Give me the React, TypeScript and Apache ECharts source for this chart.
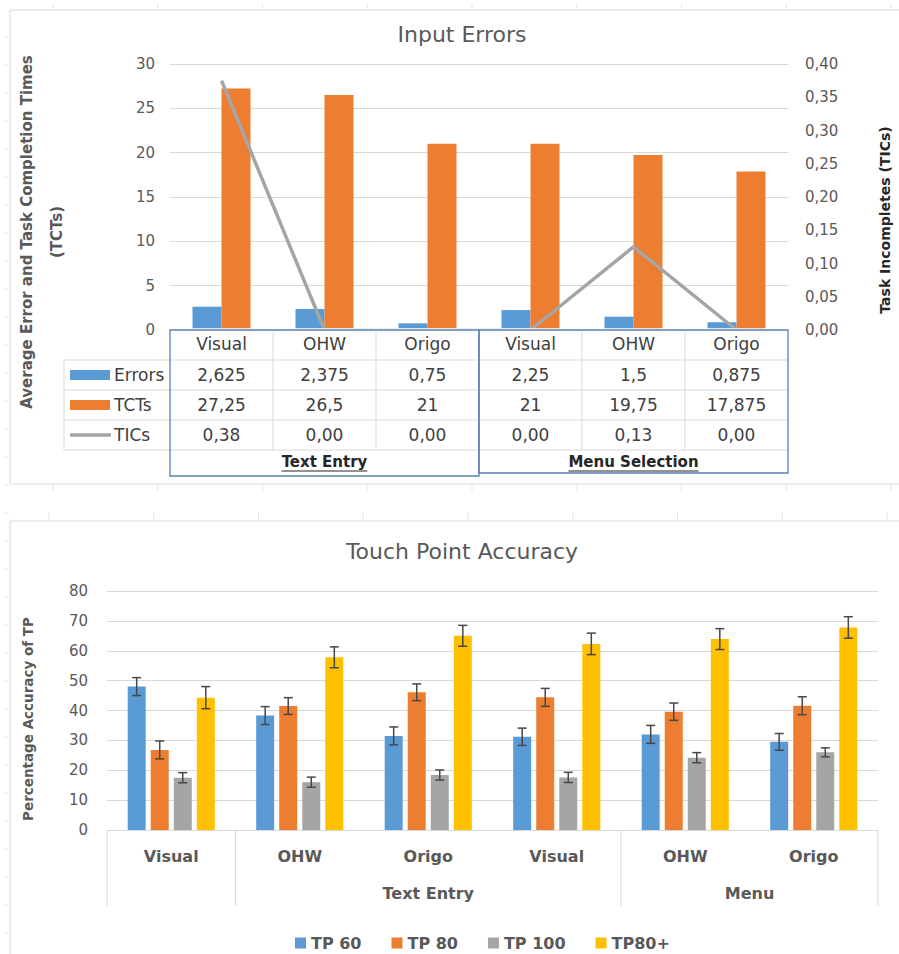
import React, { useEffect, useRef } from "react";
import * as echarts from "echarts";

const FONT = "'DejaVu Sans', 'Noto Sans', sans-serif";

// ---------- Top chart: Input Errors ----------
const topTitle = "Input Errors";
const topCategories = ["Visual", "OHW", "Origo", "Visual", "OHW", "Origo"];
const topGroupLabels = ["Text Entry", "Menu Selection"];
const topGroupSpans = [3, 3];
const errorsValues = [2.625, 2.375, 0.75, 2.25, 1.5, 0.875];
const tctValues = [27.25, 26.5, 21, 21, 19.75, 17.875];
const ticValues = [0.375, 0, 0, 0, 0.125, 0];
const topLeftAxis = { min: 0, max: 30, interval: 5 };
const topRightAxis = { min: 0, max: 0.4, interval: 0.05 };

// ---------- Bottom chart: Touch Point Accuracy ----------
const bottomTitle = "Touch Point Accuracy";
const bottomCategories = ["Visual", "OHW", "Origo", "Visual", "OHW", "Origo"];
const bottomGroupLabels = ["", "Text Entry", "Menu"];
const bottomGroupSpans = [1, 3, 2];
const tpNames = ["TP 60", "TP 80", "TP 100", "TP80+"];
const tp60 = [48, 38.3, 31.5, 31.2, 32, 29.5];
const tp80 = [26.8, 41.5, 46.1, 44.4, 39.6, 41.6];
const tp100 = [17.5, 16, 18.4, 17.6, 24.2, 26];
const tp80plus = [44.3, 57.8, 65, 62.3, 63.9, 67.8];
const tp60Err = [3, 3, 3, 2.9, 3, 2.8];
const tp80Err = [3, 2.8, 2.8, 3, 2.9, 3];
const tp100Err = [1.7, 1.7, 1.7, 1.7, 1.7, 1.5];
const tp80plusErr = [3.7, 3.5, 3.5, 3.6, 3.5, 3.6];
const bottomAxis = { min: 0, max: 80, interval: 10 };

// ---------- styling ----------
const BLUE = "#5B9BD5";
const ORANGE = "#ED7D31";
const GRAY = "#A5A5A5";
const YELLOW = "#FFC000";
const GRID_LINE = "#D9D9D9";
const AXIS_TEXT = "#595959";
const TABLE_TEXT = "#404040";
const BOX_BLUE = "#5A80B5";

const TOP = { left: 170, top: 64, width: 618, height: 266 };
const BOT = { left: 107, top: 591, width: 771, height: 239 };
const TOP_BAR_W = 29;
const BOT_BAR_W = 18;
const BOT_GAP = 0.28;

function measure(t: string, font: string) {
  const c = document.createElement("canvas").getContext("2d");
  if (!c) return t.length * 9;
  c.font = font;
  return c.measureText(t).width;
}

function buildOption() {
  const g: any[] = [];
  const line = (x1: number, y1: number, x2: number, y2: number, stroke: string, lw = 1, z = 50) =>
    g.push({ type: "line", z, silent: true, shape: { x1, y1, x2, y2 }, style: { stroke, lineWidth: lw } });
  const text = (
    x: number,
    y: number,
    t: string,
    o: { size: number; color: string; bold?: boolean; align?: string; rot?: number }
  ) =>
    g.push({
      type: "text",
      z: 60,
      silent: true,
      x,
      y,
      rotation: o.rot || 0,
      style: {
        text: t,
        fill: o.color,
        fontSize: o.size,
        fontWeight: o.bold ? "bold" : "normal",
        fontFamily: FONT,
        align: o.align || "center",
        textAlign: o.align || "center",
        verticalAlign: "middle",
        textVerticalAlign: "middle",
      },
    });

  // Frames and spreadsheet tick artifacts
  g.push({ type: "rect", z: 1, silent: true, shape: { x: 10, y: 10, width: 900, height: 474 }, style: { fill: "none", stroke: "#D9D9D9", lineWidth: 1 } });
  g.push({ type: "rect", z: 1, silent: true, shape: { x: 10, y: 521, width: 900, height: 500 }, style: { fill: "none", stroke: "#D9D9D9", lineWidth: 1 } });
  for (let k = 0; k < 9; k++) {
    const x = 53 + k * 104.75;
    line(x, 4, x, 9, "#E3E3E3", 1, 1);
    line(x, 485, x, 491, "#E3E3E3", 1, 1);
    line(x - 4, 513, x - 4, 520, "#E3E3E3", 1, 1);
  }
  for (let y = 37; y < 954; y += 28) line(4, y, 9, y, "#E6E6E6", 1, 1);

  // ----- Top chart table -----
  const colW = TOP.width / topCategories.length;
  const tBottom = TOP.top + TOP.height; // 330
  const rowH = 30;
  const rowsTop = tBottom + rowH; // 360
  const dataRows = [
    { name: "Errors", vals: errorsValues.map((v) => String(v).replace(".", ",")), key: "bar", color: BLUE },
    { name: "TCTs", vals: tctValues.map((v) => String(v).replace(".", ",")), key: "bar", color: ORANGE },
    { name: "TICs", vals: ticValues.map((v) => v.toFixed(2).replace(".", ",")), key: "line", color: GRAY },
  ];
  const tableBottom = rowsTop + dataRows.length * rowH; // 450
  const groupRowBottom = tableBottom + 26;
  const legendLeft = 64;
  // white strip hiding the zero-level part of the TICs line under the table edge
  g.push({ type: "rect", z: 65, silent: true, shape: { x: TOP.left - 2, y: tBottom - 1.8, width: TOP.width + 4, height: 4 }, style: { fill: "#ffffff" } });
  // horizontal lines
  for (let r = 0; r <= dataRows.length; r++) {
    const y = rowsTop + r * rowH;
    line(legendLeft, y, TOP.left + TOP.width, y, GRID_LINE, 1, 55);
  }
  line(legendLeft, rowsTop, legendLeft, tableBottom, GRID_LINE, 1, 55);
  // vertical column lines
  for (let i = 1; i < topCategories.length; i++) {
    const x = TOP.left + i * colW;
    line(x, tBottom, x, tableBottom, GRID_LINE, 1, 55);
  }
  // values
  dataRows.forEach((row, r) => {
    const cy = rowsTop + r * rowH + rowH / 2;
    row.vals.forEach((t, i) => text(TOP.left + (i + 0.5) * colW, cy, t, { size: 17, color: TABLE_TEXT }));
    if (row.key === "bar") {
      g.push({ type: "rect", z: 60, silent: true, shape: { x: 70, y: cy - 5, width: 40, height: 10 }, style: { fill: row.color } });
    } else {
      line(70, cy, 111, cy, row.color, 3.5, 60);
    }
    text(114, cy, row.name, { size: 17, color: TABLE_TEXT, align: "left" });
  });
  // group boxes + labels
  let start = 0;
  topGroupLabels.forEach((lab, gi) => {
    const x0 = TOP.left + start * colW;
    const w = topGroupSpans[gi] * colW;
    const h = (gi === 0 ? groupRowBottom : groupRowBottom - 3) - tBottom;
    g.push({ type: "rect", z: 70, silent: true, shape: { x: x0, y: tBottom, width: w, height: h }, style: { fill: "none", stroke: BOX_BLUE, lineWidth: 1.3 } });
    const cx = x0 + w / 2;
    const cy = tableBottom + 12;
    text(cx, cy, lab, { size: 15, color: "#262626", bold: true });
    const tw = measure(lab, `bold 15px ${FONT}`);
    line(cx - tw / 2, cy + 9, cx + tw / 2, cy + 9, "#262626", 1.2, 60);
    start += topGroupSpans[gi];
  });

  // Axis titles (top)
  text(27, 232, "Average Error and Task Completion Times", { size: 15, color: AXIS_TEXT, bold: true, rot: Math.PI / 2 });
  text(57, 232, "(TCTs)", { size: 15, color: AXIS_TEXT, bold: true, rot: Math.PI / 2 });
  text(885, 220, "Task Incompletes (TICs)", { size: 14, color: "#262626", bold: true, rot: Math.PI / 2 });

  // ----- Bottom chart multi-level axis -----
  const bColW = BOT.width / bottomCategories.length;
  const bBottom = BOT.top + BOT.height;
  let acc = 0;
  line(BOT.left, bBottom, BOT.left, bBottom + 76, GRID_LINE, 1, 55);
  bottomGroupLabels.forEach((lab, gi) => {
    const span = bottomGroupSpans[gi];
    const cx = BOT.left + (acc + span / 2) * bColW;
    if (lab) text(cx, bBottom + 63, lab, { size: 16, color: AXIS_TEXT, bold: true });
    acc += span;
    const x = BOT.left + acc * bColW;
    line(x, bBottom, x, bBottom + 76, GRID_LINE, 1, 55);
  });
  text(28, 719, "Percentage Accuracy of TP", { size: 13.5, color: AXIS_TEXT, bold: true, rot: Math.PI / 2 });

  // ----- Series -----
  const tpData = [tp60, tp80, tp100, tp80plus];
  const tpErr = [tp60Err, tp80Err, tp100Err, tp80plusErr];
  const tpColors = [BLUE, ORANGE, GRAY, YELLOW];
  const step = BOT_BAR_W * (1 + BOT_GAP);

  const bottomBars = tpNames.map((name, k) => ({
    name,
    type: "bar",
    xAxisIndex: 1,
    yAxisIndex: 2,
    data: tpData[k],
    barWidth: BOT_BAR_W,
    barGap: `${BOT_GAP * 100}%`,
    itemStyle: { color: tpColors[k] },
    z: 2,
  }));
  const errorSeries = tpNames.map((name, k) => ({
    name: name + " error",
    type: "custom",
    xAxisIndex: 1,
    yAxisIndex: 2,
    silent: true,
    z: 5,
    encode: { x: 0, y: 1 },
    data: tpData[k].map((v, i) => [i, v, tpErr[k][i]]),
    renderItem: (params: any, api: any) => {
      const i = api.value(0);
      const v = api.value(1);
      const e = api.value(2);
      const hi = api.coord([i, v + e]);
      const lo = api.coord([i, v - e]);
      const x = hi[0] + (k - 1.5) * step;
      const cap = 4.5;
      const st = { stroke: "#474747", lineWidth: 1.5 };
      return {
        type: "group",
        children: [
          { type: "line", shape: { x1: x, y1: hi[1], x2: x, y2: lo[1] }, style: st },
          { type: "line", shape: { x1: x - cap, y1: hi[1], x2: x + cap, y2: hi[1] }, style: st },
          { type: "line", shape: { x1: x - cap, y1: lo[1], x2: x + cap, y2: lo[1] }, style: st },
        ],
      };
    },
  }));

  return {
    animation: false,
    backgroundColor: "#ffffff",
    textStyle: { fontFamily: FONT },
    title: [
      { text: topTitle, left: 457, top: 18, textAlign: "center", textStyle: { fontSize: 22, fontWeight: "normal", color: AXIS_TEXT, fontFamily: FONT } },
      { text: bottomTitle, left: 457, top: 535, textAlign: "center", textStyle: { fontSize: 22, fontWeight: "normal", color: AXIS_TEXT, fontFamily: FONT } },
    ],
    legend: {
      data: tpNames,
      left: 290,
      top: 930,
      icon: "rect",
      itemWidth: 11,
      itemHeight: 11,
      itemGap: 30,
      textStyle: { fontSize: 16, fontWeight: "bold", color: AXIS_TEXT, fontFamily: FONT },
    },
    grid: [
      { ...TOP, outerBoundsMode: "none" },
      { ...BOT, outerBoundsMode: "none" },
    ],
    xAxis: [
      {
        gridIndex: 0,
        type: "category",
        data: topCategories,
        axisLine: { show: false },
        axisTick: { show: false },
        axisLabel: { interval: 0, margin: 14, verticalAlign: "middle", fontSize: 17, color: TABLE_TEXT, fontFamily: FONT },
      },
      {
        gridIndex: 1,
        type: "category",
        data: bottomCategories,
        axisLine: { show: true, lineStyle: { color: GRID_LINE, width: 1 } },
        axisTick: { show: false },
        axisLabel: { interval: 0, margin: 26, verticalAlign: "middle", fontSize: 16, fontWeight: "bold", color: AXIS_TEXT, fontFamily: FONT },
      },
    ],
    yAxis: [
      {
        gridIndex: 0,
        type: "value",
        ...topLeftAxis,
        axisLine: { show: false },
        axisTick: { show: false },
        axisLabel: { margin: 15, fontSize: 15, color: AXIS_TEXT, fontFamily: FONT },
        splitLine: { lineStyle: { color: GRID_LINE, width: 1 } },
      },
      {
        gridIndex: 0,
        type: "value",
        position: "right",
        ...topRightAxis,
        axisLine: { show: false },
        axisTick: { show: false },
        axisLabel: { margin: 17, fontSize: 15, color: AXIS_TEXT, fontFamily: FONT, formatter: (v: number) => v.toFixed(2).replace(".", ",") },
        splitLine: { show: false },
      },
      {
        gridIndex: 1,
        type: "value",
        ...bottomAxis,
        axisLine: { show: false },
        axisTick: { show: false },
        axisLabel: { margin: 19, fontSize: 15, color: AXIS_TEXT, fontFamily: FONT },
        splitLine: { lineStyle: { color: GRID_LINE, width: 1 } },
      },
    ],
    series: [
      { name: "Errors", type: "bar", xAxisIndex: 0, yAxisIndex: 0, data: errorsValues, barWidth: TOP_BAR_W, barGap: "0%", itemStyle: { color: BLUE }, z: 2 },
      { name: "TCTs", type: "bar", xAxisIndex: 0, yAxisIndex: 0, data: tctValues, barWidth: TOP_BAR_W, barGap: "0%", itemStyle: { color: ORANGE }, z: 2 },
      { name: "TICs", type: "line", xAxisIndex: 0, yAxisIndex: 1, data: ticValues, showSymbol: false, symbol: "none", lineStyle: { color: GRAY, width: 3.5 }, itemStyle: { color: GRAY }, z: 4 },
      ...bottomBars,
      ...errorSeries,
    ],
    graphic: { elements: g },
  };
}

export default function App() {
  const ref = useRef<HTMLDivElement>(null);
  useEffect(() => {
    if (!ref.current) return;
    const chart = echarts.init(ref.current, null, { renderer: "svg" });
    chart.setOption(buildOption() as any);
    return () => chart.dispose();
  }, []);
  return (
    <div
      ref={ref}
      style={{ position: "absolute", left: 0, top: 0, width: 899, height: 954, background: "#fff" }}
    />
  );
}
